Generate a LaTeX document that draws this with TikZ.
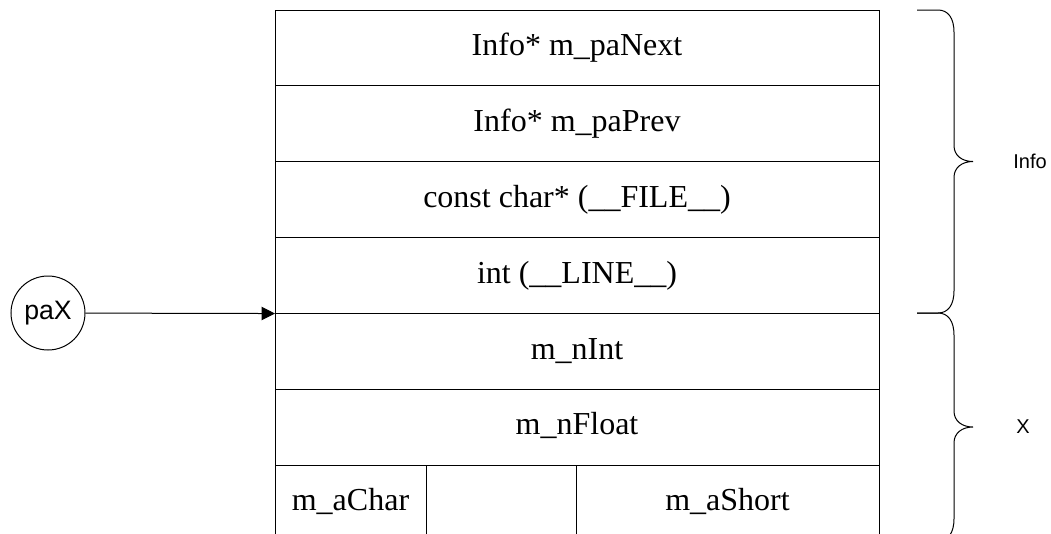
\documentclass[tikz,border=0pt]{standalone}
\usepackage{fontspec}
\setmainfont{Liberation Serif}
\newfontfamily\lblfont{Liberation Sans}
\usetikzlibrary{positioning,arrows.meta}
\tikzset{
	field/.style={draw, rectangle, outer sep=0pt, inner sep=0pt, minimum width=453pt, minimum height=56.9pt, text height=16.5pt, text depth=5.2pt, font=\fontsize{24}{28}\selectfont},
	ptr/.style={-{Triangle[length=10pt,width=10pt]}},
	lbl/.style={font=\lblfont\fontsize{15}{18}\selectfont},
}

\begin{document}
\begin{tikzpicture}[x=0.75pt,y=-0.75pt,line width=0.75pt]
	\useasboundingbox (0,0) rectangle (1051,533);
	\clip (0,0) rectangle (1051,533);
	% the record
	\node[field] (next) at (577,48) {Info* m\_paNext};
	\node[field, below=0pt of next] (prev) {Info* m\_paPrev};
	\node[field, below=0pt of prev] (file) {const char* (\_\_FILE\_\_)};
	\node[field, below=0pt of file] (line) {int (\_\_LINE\_\_)};
	\node[field, below=0pt of line] (nint) {m\_nInt};
	\node[field, below=0pt of nint] (nfloat) {m\_nFloat};
	\node[field, minimum width=113.25pt, below right=0pt of nfloat.south west] (achar) {m\_aChar};
	\node[field, minimum width=112.5pt, right=0pt of achar] (gap) {};
	\node[field, minimum width=227.25pt, right=0pt of gap] (ashort) {m\_aShort};
	% pointer
	\node[draw, circle, minimum size=55.5pt, inner sep=0pt, font=\lblfont\fontsize{20}{24}\selectfont] (pax) at (48,313) {paX};
	\draw[ptr] (pax) -- (nint.north west);
	% braces
	\foreach \ya/\ym/\yb in {10/161.5/313, 313/427/541} {
		\draw (917,\ya) -- (938,\ya) .. controls (948,\ya) and (954,\ya+8) .. (954,\ya+22)
			-- (954,\ym-16) .. controls (954,\ym-6) and (962,\ym) .. (973,\ym)
			.. controls (962,\ym) and (954,\ym+6) .. (954,\ym+16)
			-- (954,\yb-22) .. controls (954,\yb-8) and (948,\yb) .. (938,\yb) -- (917,\yb);
	}
	\node[lbl] (infolbl) at (1030,161) {Info};
	\node[lbl] (xlbl) at (1023,427) {X};
\end{tikzpicture}
\end{document}
